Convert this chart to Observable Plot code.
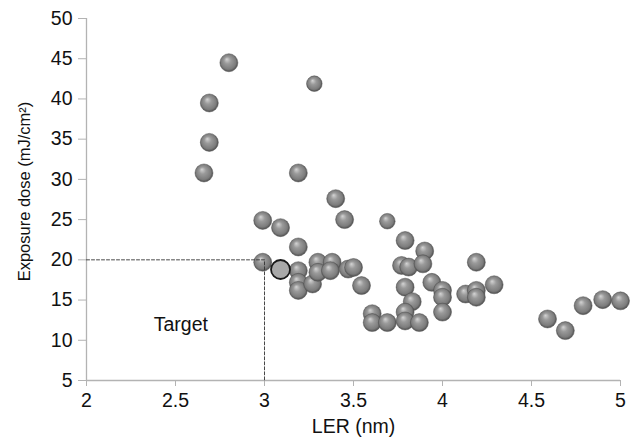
<!DOCTYPE html>
<html>
<head>
<meta charset="utf-8">
<script src="https://cdn.jsdelivr.net/npm/d3@7"></script>
<script src="https://cdn.jsdelivr.net/npm/@observablehq/plot@0.6"></script>
<style>
  html, body { margin: 0; padding: 0; background: #fff; }
  svg { display: block; }
</style>
</head>
<body>
<div id="chart"></div>
<script>
// LER (nm) values
const ler = [2.66, 2.69, 2.69, 2.80, 3.28, 3.19, 3.40, 2.99, 3.09, 3.45, 3.69, 3.19, 3.79,
  2.99, 3.09, 3.19, 3.19, 3.19, 3.27, 3.30, 3.30, 3.38, 3.37, 3.47, 3.50, 3.545,
  3.605, 3.605, 3.69, 3.77, 3.81, 3.90, 3.89, 3.79, 3.83, 3.79, 3.79, 3.87,
  3.94, 4.00, 4.00, 4.00, 4.19, 4.13, 4.19, 4.19, 4.29, 4.59, 4.69, 4.79, 4.90, 5.00];
// Exposure dose (mJ/cm2) values
const dose = [30.8, 34.6, 39.5, 44.5, 41.9, 30.8, 27.6, 24.9, 24.0, 25.0, 24.8, 21.6, 22.4,
  19.7, 18.8, 18.65, 17.2, 16.2, 17.0, 19.7, 18.45, 19.7, 18.65, 18.85, 19.05, 16.8,
  13.3, 12.2, 12.2, 19.3, 19.1, 21.1, 19.5, 16.6, 14.8, 13.5, 12.4, 12.2,
  17.2, 16.2, 15.35, 13.5, 19.7, 15.75, 16.2, 15.35, 16.9, 12.65, 11.2, 14.3, 15.05, 14.9];
// point type: 0 normal, 1 small, 2 highlighted (the chosen resist)
const kind = [0,0,0,0,1,0,0,0,0,0,1,0,0,
  0,2,0,0,0,0,0,0,0,0,0,0,0,
  0,0,0,0,0,0,0,0,0,0,0,0,
  0,0,0,0,0,0,0,0,0,0,0,0,0,0];

const xTicks = [2, 2.5, 3, 3.5, 4, 4.5, 5];
const yTicks = [5, 10, 15, 20, 25, 30, 35, 40, 45, 50];
const targetX = 3, targetY = 20;

const pts = ler.map((x, i) => ({x, y: dose[i], k: kind[i]}));
const normal = pts.filter(d => d.k === 0);
const small = pts.filter(d => d.k === 1);
const special = pts.filter(d => d.k === 2);
const guide = [{x: 2, y: targetY}, {x: targetX, y: targetY}, {x: targetX, y: 5}];

const axisColor = "#b3b3b3";
const fs = 19.5;

const chart = Plot.plot({
  width: 632,
  height: 446,
  marginLeft: 86,
  marginRight: 12,
  marginTop: 18,
  marginBottom: 66,
  style: {fontFamily: "'Liberation Sans', Arial, sans-serif", fontSize: fs + "px", color: "#111", background: "#fff"},
  x: {domain: [2, 5]},
  y: {domain: [5, 50]},
  marks: [
    Plot.ruleX([2], {stroke: axisColor, strokeWidth: 1.3}),
    Plot.ruleY([5], {stroke: axisColor, strokeWidth: 1.3}),
    Plot.axisY({ticks: yTicks, tickSize: 8, tickPadding: 6, stroke: axisColor, label: null, fontSize: fs}),
    Plot.axisX({ticks: xTicks, tickSize: 6, tickPadding: 7, stroke: axisColor, label: null, fontSize: fs, tickFormat: d => String(d)}),
    Plot.dot(normal, {x: "x", y: "y", r: 9, fill: "url(#sphere)", stroke: "#555", strokeWidth: 0.5}),
    Plot.dot(small, {x: "x", y: "y", r: 7.8, fill: "url(#sphere)", stroke: "#555", strokeWidth: 0.5}),
    Plot.dot(special, {x: "x", y: "y", r: 9.5, fill: "#a9a9a9", stroke: "#1a1a1a", strokeWidth: 1.8}),
    Plot.line(guide, {x: "x", y: "y", stroke: "#333", strokeWidth: 0.9, strokeDasharray: "3,2"}),
    Plot.text(["Target"], {x: 2.53, y: 11.9, text: d => d, fontSize: fs, fill: "#111"}),
    Plot.text(["LER (nm)"], {frameAnchor: "bottom", dy: 46, lineAnchor: "middle", textAnchor: "middle", text: d => d, fontSize: fs, fill: "#111"}),
    Plot.text(["Exposure dose (mJ/cm²)"], {frameAnchor: "left", dx: -62, dy: -8, rotate: -90, textAnchor: "middle", lineAnchor: "middle", text: d => d, fontSize: 16.5, fill: "#111"})
  ]
});

// Spherical shading gradient
const defs = d3.select(chart).insert("defs", ":first-child");
const g = defs.append("radialGradient")
  .attr("id", "sphere")
  .attr("cx", "50%").attr("cy", "50%").attr("r", "55%")
  .attr("fx", "38%").attr("fy", "30%");
g.append("stop").attr("offset", "0%").attr("stop-color", "#d4d4d4");
g.append("stop").attr("offset", "35%").attr("stop-color", "#9a9a9a");
g.append("stop").attr("offset", "75%").attr("stop-color", "#7c7c7c");
g.append("stop").attr("offset", "100%").attr("stop-color", "#3e3e3e");

document.getElementById("chart").appendChild(chart);
</script>
</body>
</html>
